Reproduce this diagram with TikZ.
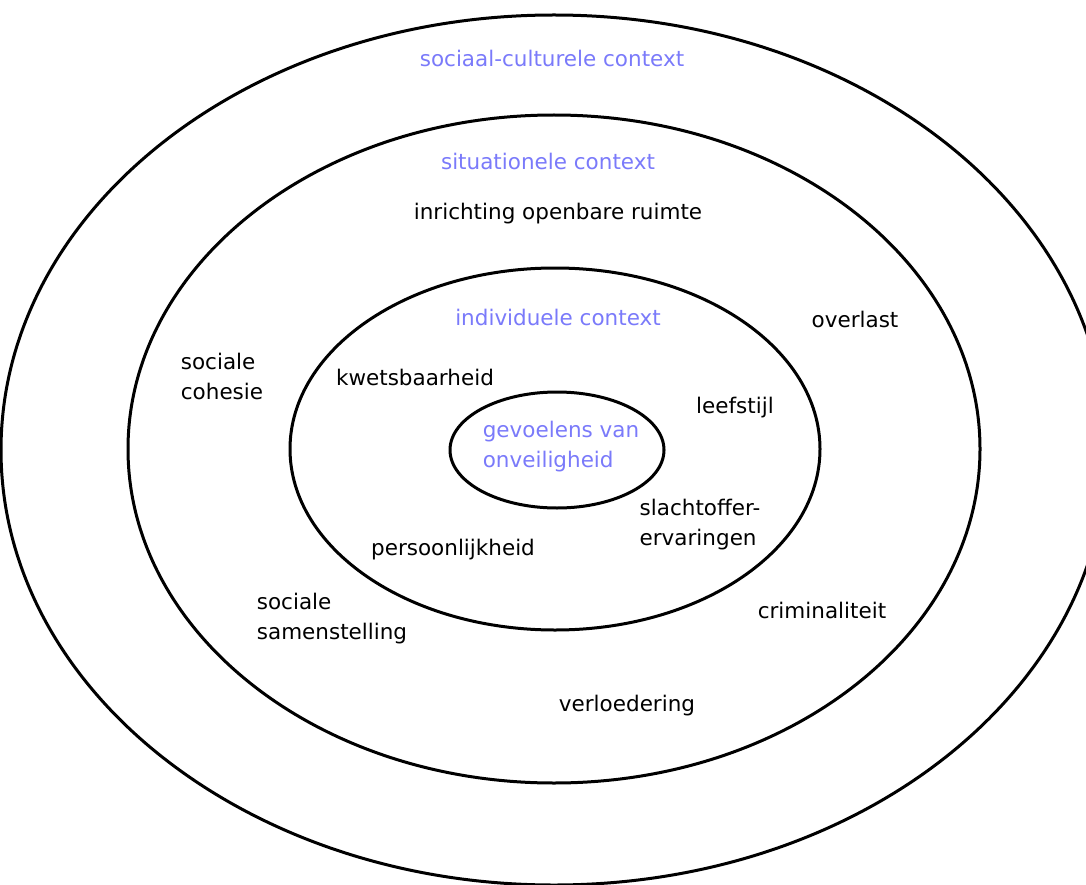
\documentclass[tikz,border=0pt]{standalone}
\usepackage{fontspec}
\setmainfont{DejaVu Sans}
\definecolor{ctxblue}{RGB}{122,122,250}
\begin{document}
\begin{tikzpicture}[
    x=1pt, y=-1pt,
    ring/.style={draw, line width=3pt},
    factor/.style={font=\fontsize{21.5}{30}\selectfont, align=left, inner sep=0pt},
    ctx/.style={factor, text=ctxblue},
]
\useasboundingbox (0,0) rectangle (1086,885);

% Ringen van buiten naar binnen
\draw[ring] (554,450) ellipse [x radius=553, y radius=435];
\draw[ring] (554,449) ellipse [x radius=426, y radius=334];
\draw[ring] (555,449) ellipse [x radius=265, y radius=181];
\draw[ring] (557,450) ellipse [x radius=107, y radius=58];

% Namen van de contexten
\node[ctx] (sociaal) at (552, 58) {sociaal-culturele context};
\node[ctx] (situatie) at (548, 161) {situationele context};
\node[ctx] (individu) at (558, 317) {individuele context};
\node[ctx] (kern) at (561, 447) {gevoelens van\\onveiligheid};

% Situationele factoren
\node[factor] (inrichting) at (558, 214) {inrichting openbare ruimte};
\node[factor] (overlast) at (855, 319) {overlast};
\node[factor] (cohesie) at (222, 376) {sociale\\cohesie};
\node[factor] (samenstelling) at (332, 619) {sociale\\samenstelling};
\node[factor] (criminaliteit) at (822, 610) {criminaliteit};
\node[factor] (verloedering) at (627, 706) {verloedering};

% Individuele factoren
\node[factor] (kwetsbaar) at (415, 377) {kwetsbaarheid};
\node[factor] (leefstijl) at (735, 408) {leefstijl};
\node[factor] (slachtoffer) at (700, 525) {slachtoffer-\\ervaringen};
\node[factor] (persoon) at (453, 550) {persoonlijkheid};

\end{tikzpicture}
\end{document}
